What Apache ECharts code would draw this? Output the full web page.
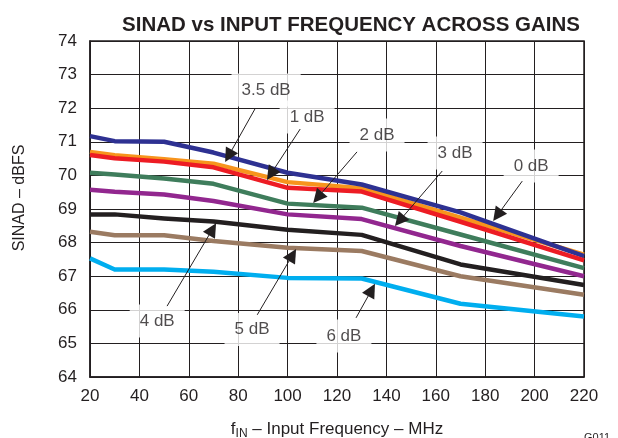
<!DOCTYPE html>
<html>
<head>
<meta charset="utf-8">
<script src="https://cdn.jsdelivr.net/npm/echarts@6/dist/echarts.min.js"></script>
<style>
html,body{margin:0;padding:0;background:#fff;}
#chart{width:618px;height:438px;}
</style>
</head>
<body>
<div id="chart"></div>
<script>
// ---- data ----
const freqMHz   = [20, 30, 50, 70, 100, 130, 170, 220];
const gain0dB   = [71.17, 71.02, 71.00, 70.68, 70.08, 69.73, 68.90, 67.60];
const gain3p5dB = [70.70, 70.60, 70.48, 70.35, 69.80, 69.62, 68.74, 67.64];
const gain1dB   = [70.61, 70.51, 70.41, 70.24, 69.63, 69.52, 68.62, 67.47];
const gain2dB   = [70.08, 70.03, 69.91, 69.75, 69.16, 69.04, 68.24, 67.24];
const gain3dB   = [69.57, 69.51, 69.43, 69.24, 68.84, 68.70, 67.90, 67.00];
const gain4dB   = [68.84, 68.84, 68.72, 68.63, 68.38, 68.23, 67.35, 66.74];
const gain5dB   = [68.32, 68.22, 68.22, 68.05, 67.85, 67.75, 67.00, 66.45];
const gain6dB   = [67.53, 67.20, 67.20, 67.13, 66.95, 66.93, 66.18, 65.80];
const xTicks = [20, 40, 60, 80, 100, 120, 140, 160, 180, 200, 220];
const yTicks = [64, 65, 66, 67, 68, 69, 70, 71, 72, 73, 74];

// annotation text, label anchor, arrow start, arrow head (data coordinates)
const annoText  = ['3.5 dB', '1 dB', '2 dB', '3 dB', '0 dB', '4 dB', '5 dB', '6 dB'];
const annoLabel = [[91.3, 72.54], [107.9, 71.74], [136.2, 71.20], [167.8, 70.67], [198.6, 70.28], [47.2, 65.67], [85.6, 65.41], [122.8, 65.22]];
const annoStart = [[86.8, 71.98], [105.1, 71.38], [128.1, 70.70], [162.6, 70.13], [195.0, 69.83], [51.2, 66.11], [87.7, 65.85], [127.7, 65.76]];
const annoHead  = [[76.1, 70.58], [93.2, 70.04], [112.2, 69.34], [145.3, 68.65], [184.9, 68.81], [69.6, 68.40], [102.0, 67.63], [134.0, 66.59]];

const INK = '#231f20';
const FONT = 'Liberation Sans, Arial, sans-serif';
const seriesDefs = [
  {name: '3.5 dB', data: gain3p5dB, color: '#f7941d'},
  {name: '0 dB',   data: gain0dB,   color: '#2e3192'},
  {name: '1 dB',   data: gain1dB,   color: '#ed1c24'},
  {name: '2 dB',   data: gain2dB,   color: '#3f7d5c'},
  {name: '3 dB',   data: gain3dB,   color: '#92278f'},
  {name: '4 dB',   data: gain4dB,   color: '#231f20'},
  {name: '5 dB',   data: gain5dB,   color: '#9b7b62'},
  {name: '6 dB',   data: gain6dB,   color: '#00aeef'}
];

const chart = echarts.init(document.getElementById('chart'), null, {renderer: 'canvas'});

const lineSeries = seriesDefs.map(s => ({
  name: s.name,
  type: 'line',
  data: freqMHz.map((f, i) => [f, s.data[i]]),
  showSymbol: false,
  symbol: 'none',
  lineStyle: {color: s.color, width: 4.5, cap: 'butt', join: 'round'},
  itemStyle: {color: s.color},
  z: 2
}));

const option = {
  animation: false,
  title: {
    text: 'SINAD vs INPUT FREQUENCY ACROSS GAINS',
    left: 346,
    top: 10,
    textAlign: 'center',
    textStyle: {fontFamily: FONT, fontWeight: 'bold', fontSize: 20.5, color: INK}
  },
  grid: {
    left: 90, right: 34, top: 41, bottom: 61,
    outerBoundsMode: 'none',
    containLabel: false,
    show: true, borderColor: INK, borderWidth: 1.5, backgroundColor: 'transparent'
  },
  xAxis: {
    type: 'value',
    min: xTicks[0], max: xTicks[xTicks.length - 1], interval: 20,
    axisLine: {show: true, lineStyle: {color: INK, width: 1.5}},
    axisTick: {show: false},
    splitLine: {show: true, lineStyle: {color: INK, width: 1}},
    axisLabel: {color: INK, fontSize: 17, margin: 11, fontFamily: FONT},
    name: '{f|f}{sub|IN}{f| – Input Frequency – MHz}',
    nameLocation: 'middle',
    nameGap: 42,
    nameTextStyle: {
      fontFamily: FONT,
      rich: {
        f: {fontSize: 17, color: INK, fontFamily: FONT},
        sub: {fontSize: 12, color: INK, padding: [9, 0, 0, 0], fontFamily: FONT}
      }
    }
  },
  yAxis: {
    type: 'value',
    min: yTicks[0], max: yTicks[yTicks.length - 1], interval: 1,
    axisLine: {show: true, lineStyle: {color: INK, width: 1.5}},
    axisTick: {show: false},
    splitLine: {show: true, lineStyle: {color: INK, width: 1}},
    axisLabel: {color: INK, fontSize: 17, margin: 13, fontFamily: FONT},
    name: 'SINAD – dBFS',
    nameLocation: 'middle',
    nameGap: 62,
    nameTextStyle: {color: INK, fontSize: 16, padding: [0, 0, 0, 22], fontFamily: FONT}
  },
  graphic: [{
    type: 'text', left: 584, top: 432,
    style: {text: 'G011', fill: INK, fontSize: 11, fontFamily: FONT}
  }],
  series: lineSeries.concat([
    {
      name: 'labels',
      type: 'scatter',
      symbolSize: 0,
      data: annoText.map((t, i) => ({name: t, value: annoLabel[i]})),
      label: {
        show: true, position: 'inside',
        formatter: p => p.name,
        color: INK, fontSize: 17,
        fontFamily: FONT,
        backgroundColor: '#ffffff',
        padding: [8, 10]
      },
      silent: true,
      z: 5
    },
    {
      name: 'arrows',
      type: 'lines',
      coordinateSystem: 'cartesian2d',
      data: annoText.map((t, i) => ({coords: [annoStart[i], annoHead[i]]})),
      symbol: ['none', 'triangle'],
      symbolSize: [0, 14],
      lineStyle: {color: INK, width: 1, opacity: 1, curveness: 0},
      silent: true,
      z: 6
    }
  ])
};
chart.setOption(option);
</script>
</body>
</html>
